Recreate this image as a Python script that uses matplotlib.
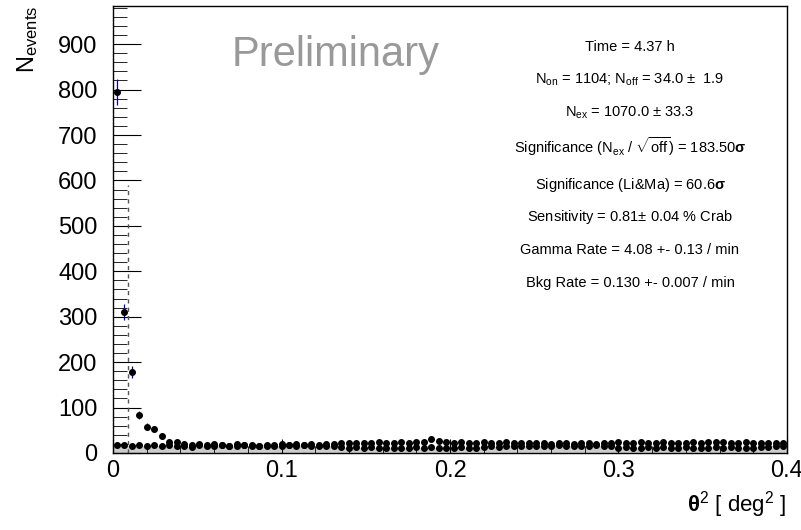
import matplotlib
matplotlib.use("Agg")
import numpy as np
import matplotlib.pyplot as plt
from matplotlib.ticker import MultipleLocator

# - data (theta^2 distribution, 90 bins from 0 to 0.4)
xmin, xmax, nbins = 0.0, 0.4, 90
on_counts = [795, 310, 178, 84, 58, 53, 37, 25, 24, 20, 18, 19, 17, 19, 18, 15, 19, 17, 18, 16,
             16, 18, 19, 18, 20, 17, 19, 18, 20, 19, 22, 23, 22, 23, 22, 24, 23, 22, 24, 23,
             24, 25, 31, 26, 24, 23, 24, 23, 22, 24, 23, 22, 24, 21, 22, 23, 21, 22, 20, 21,
             22, 20, 21, 22, 20, 23, 21, 24, 23, 22, 24, 23, 22, 24, 23, 22, 23, 24, 22, 24,
             25, 24, 22, 23, 24, 22, 23, 22, 21, 22]
off_counts = [17, 17, 16, 17, 16, 17, 16, 17, 15, 16, 14, 17, 16, 15, 17, 16, 15, 17, 16, 16,
              17, 16, 15, 17, 16, 17, 16, 15, 16, 15, 14, 12, 13, 12, 14, 12, 11, 12, 11, 12,
              13, 12, 14, 12, 11, 12, 14, 11, 12, 13, 15, 14, 16, 15, 16, 15, 16, 15, 16, 17,
              15, 16, 15, 16, 17, 16, 15, 12, 13, 11, 12, 14, 12, 13, 11, 12, 13, 12, 11, 12,
              14, 12, 13, 12, 11, 12, 13, 14, 15, 15]
theta2_cut = 0.0087
cut_height = 590

info_lines = [
    "Time = 4.37 h",
    r"N$_{\rm on}$ = 1104; N$_{\rm off}$ = 34.0 $\pm$  1.9",
    r"N$_{\rm ex}$ = 1070.0 $\pm$ 33.3",
    r"Significance (N$_{\rm ex}$ / $\sqrt{\rm off}$) = 183.50$\mathbf{\sigma}$",
    r"Significance (Li&Ma) = 60.6$\mathbf{\sigma}$",
    r"Sensitivity = 0.81$\pm$ 0.04 % Crab",
    "Gamma Rate = 4.08 +- 0.13 / min",
    "Bkg Rate = 0.130 +- 0.007 / min",
]

plt.rcParams['font.family'] = ['Liberation Sans', 'DejaVu Sans']
plt.rcParams['mathtext.fontset'] = 'custom'
plt.rcParams['mathtext.rm'] = 'Liberation Sans'
plt.rcParams['mathtext.it'] = 'Liberation Sans:italic'
plt.rcParams['mathtext.bf'] = 'Liberation Sans:bold'

edges = np.linspace(xmin, xmax, nbins + 1)
centers = 0.5 * (edges[:-1] + edges[1:])
on = np.array(on_counts, dtype=float)
off = np.array(off_counts, dtype=float)

fig = plt.figure(figsize=(8.01, 5.30), dpi=100)
ax = fig.add_axes([0.1411, 0.1453, 0.8414, 0.8434])

# off histogram, grey filled
ax.stairs(off, edges, fill=True, color="#cccccc", zorder=1)
ax.errorbar(centers, off, yerr=np.sqrt(off), fmt="o", color="black", ms=4,
            ecolor="#4444aa", elinewidth=0.8, capsize=0, zorder=3)
# on counts
ax.errorbar(centers, on, yerr=np.sqrt(on), fmt="o", color="black", ms=4,
            ecolor="#0000cc", elinewidth=0.9, capsize=0, zorder=4)
# theta2 cut
ax.vlines(theta2_cut, 0, cut_height, colors="#555555", linestyles=(0, (3, 3)), linewidth=1.0, zorder=2)

ax.set_xlim(xmin, xmax)
ax.set_ylim(0, 984)
ax.xaxis.set_major_locator(MultipleLocator(0.1))
ax.xaxis.set_minor_locator(MultipleLocator(0.02))
ax.yaxis.set_major_locator(MultipleLocator(100))
ax.yaxis.set_minor_locator(MultipleLocator(20))
ax.set_xticks([0, 0.1, 0.2, 0.3, 0.4])
ax.set_xticklabels(["0", "0.1", "0.2", "0.3", "0.4"])
ax.tick_params(axis="both", which="both", direction="in", labelsize=17, top=False, right=False)
ax.tick_params(axis="y", which="major", length=20, pad=11)
ax.tick_params(axis="y", which="minor", length=10)
ax.tick_params(axis="x", which="major", length=10, pad=5)
ax.tick_params(axis="x", which="minor", length=5)
for s in ax.spines.values():
    s.set_linewidth(1.0)

fig.text(0.035, 0.99, r"N$_{\rm events}$", rotation=90, ha="center", va="top", fontsize=17)
fig.text(0.982, 0.035, r"$\mathbf{\theta}^{2}$ [ deg$^{2}$ ]", ha="right", va="baseline", fontsize=16)

ax.text(0.331, 0.89, "Preliminary", transform=ax.transAxes, fontsize=30,
        color="#999999", ha="center", va="center")

ys = [47, 80, 113, 147, 185, 217, 250, 283]
for line, yp in zip(info_lines, ys):
    fig.text(630 / 801, 1 - yp / 530, line, ha="center", va="center", fontsize=10.5)

plt.savefig("out.png", dpi=100)
